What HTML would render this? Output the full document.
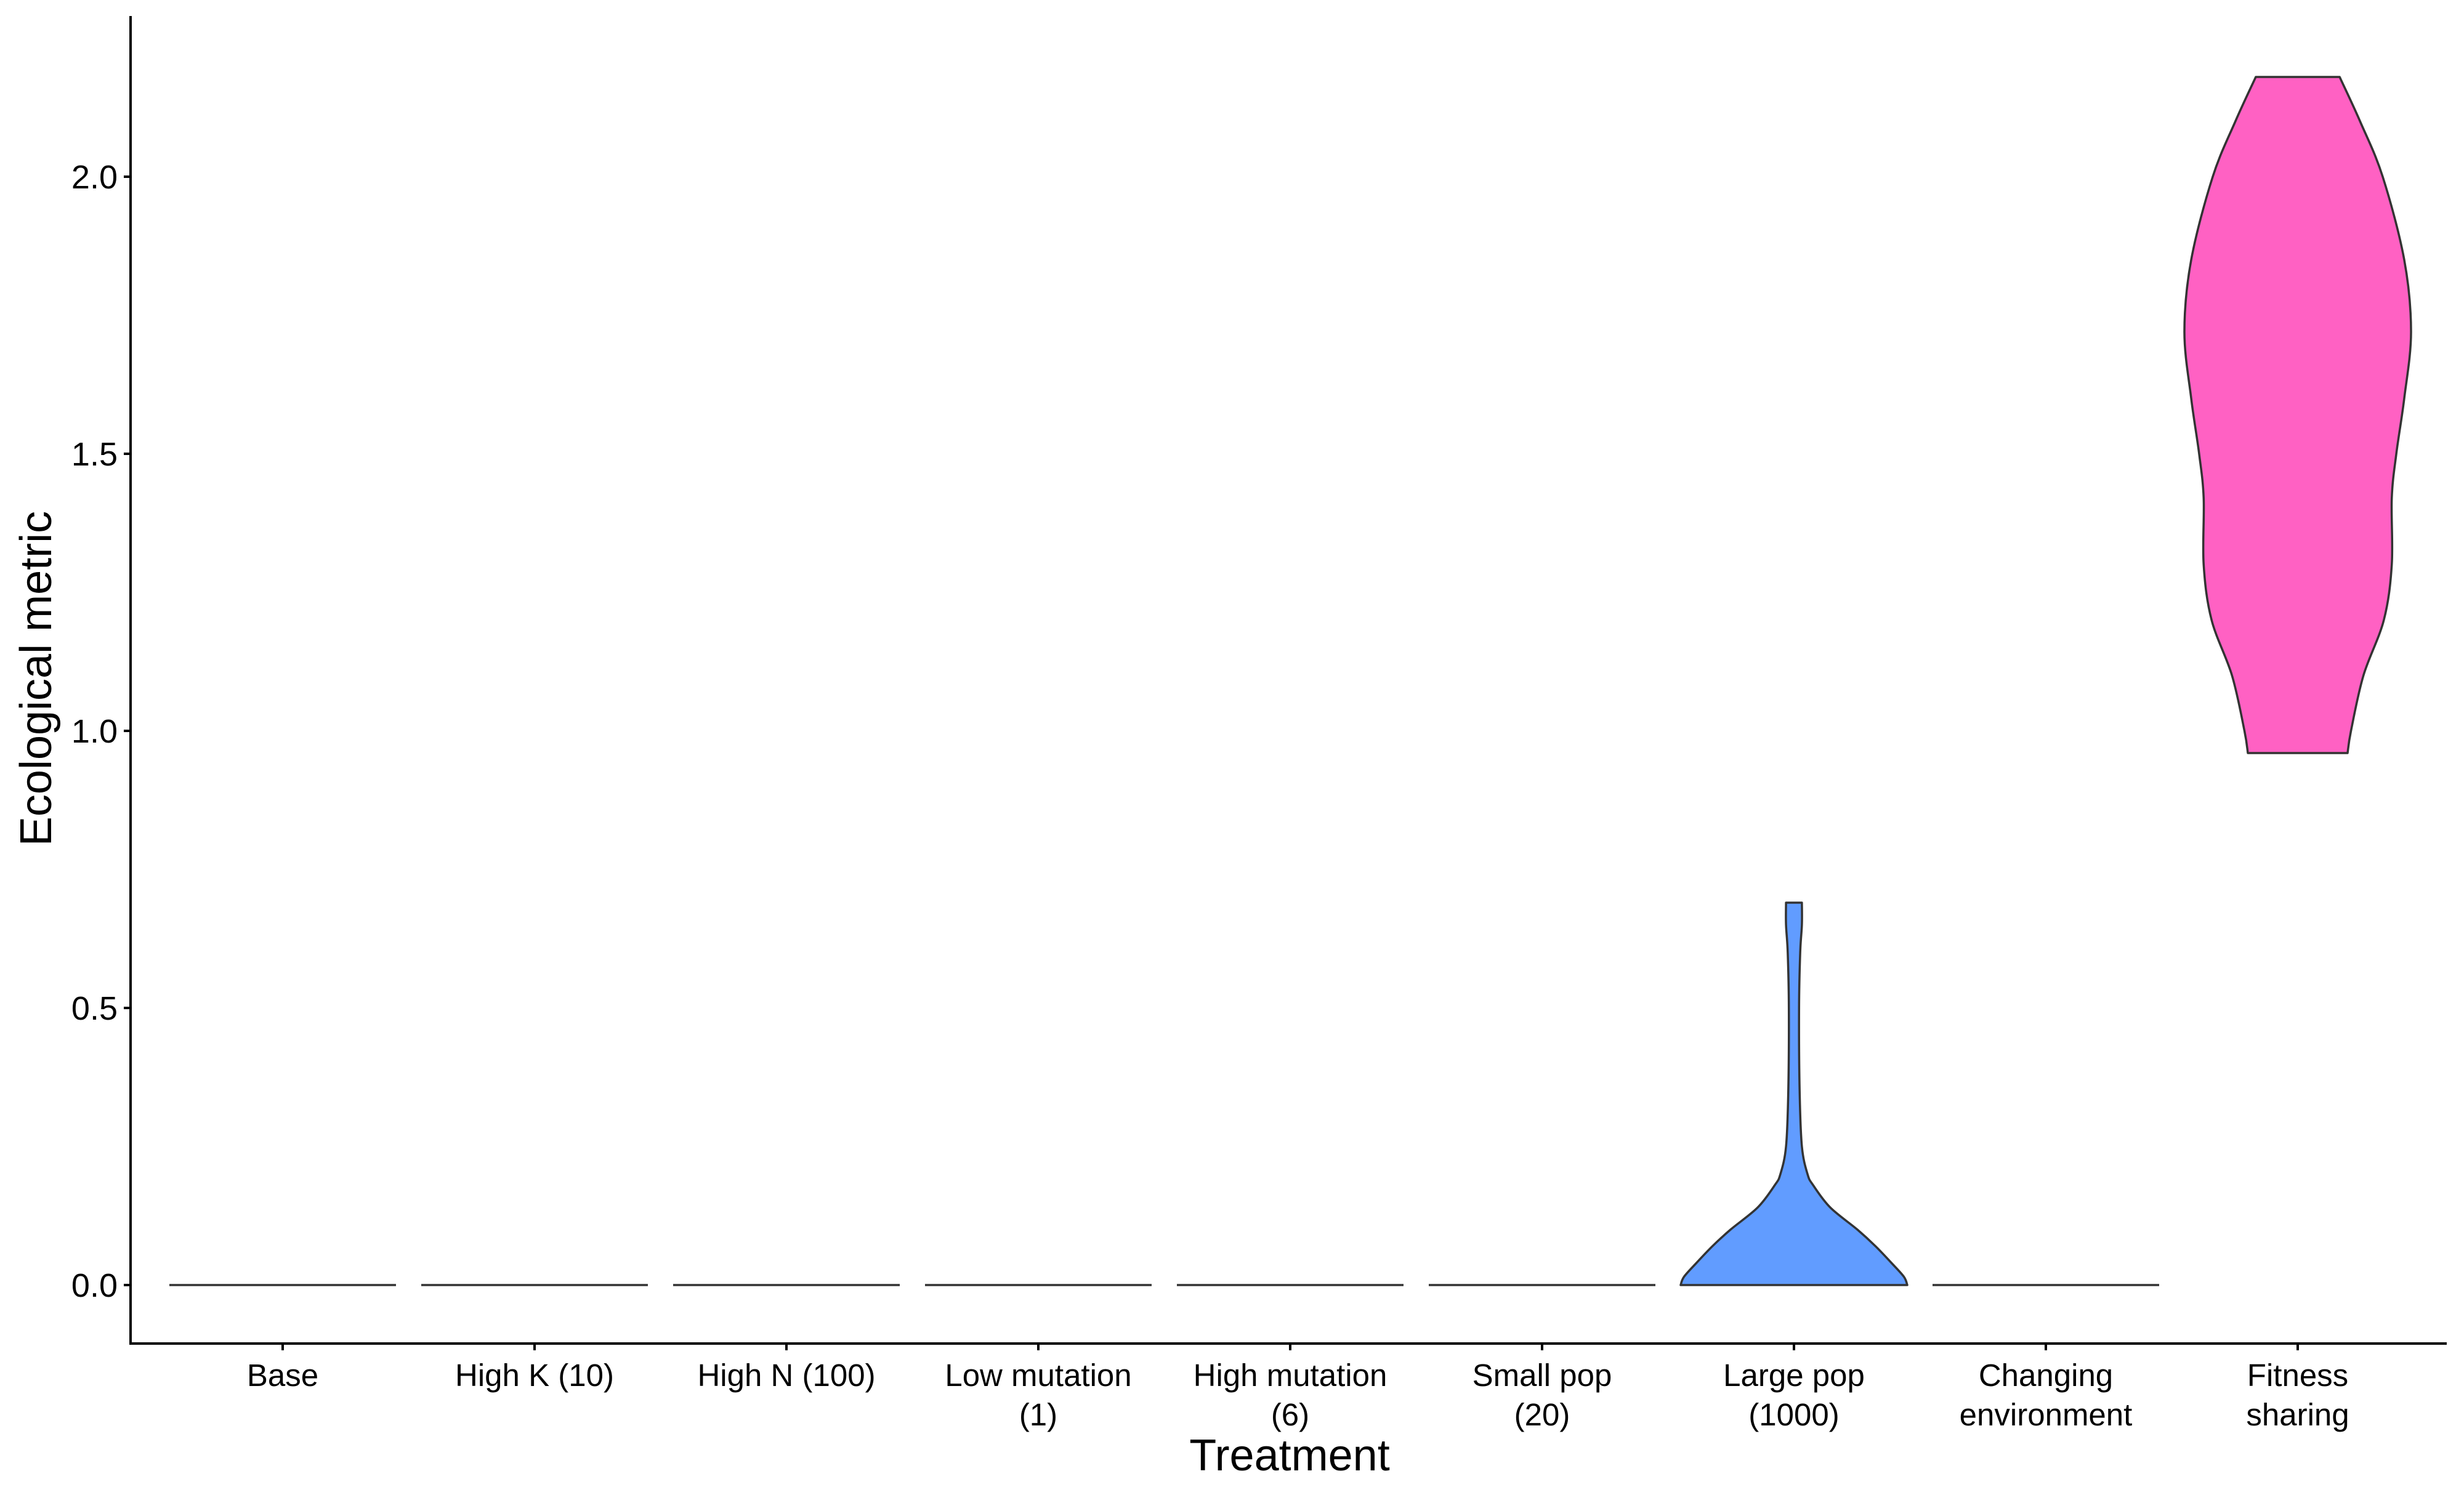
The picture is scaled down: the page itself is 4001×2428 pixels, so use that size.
<!DOCTYPE html>
<html><head><meta charset="utf-8"><style>
html,body{margin:0;padding:0;background:#fff;}
svg text{font-family:"Liberation Sans",sans-serif;fill:#000;}
</style></head><body>
<svg id="chart" width="4001" height="2423" viewBox="0 0 4001 2423" xmlns="http://www.w3.org/2000/svg">
<g id="axes"></g>
<g id="marks"></g>
<text x="64" y="1102" font-size="72" text-anchor="middle" transform="rotate(-90 64 1102)" dominant-baseline="middle">Ecological metric</text>
<text x="2094" y="2388" font-size="72" text-anchor="middle">Treatment</text>
</svg>
<script>
const categories = [["Base"],["High K (10)"],["High N (100)"],["Low mutation","(1)"],["High mutation","(6)"],["Small pop","(20)"],["Large pop","(1000)"],["Changing","environment"],["Fitness","sharing"]];
const yTicks = [0, 0.5, 1.0, 1.5, 2.0];
const yTickLabels = ["0.0","0.5","1.0","1.5","2.0"];
const largePopY = [0, 0.015, 0.04, 0.07, 0.1, 0.14, 0.18, 0.2, 0.25, 0.35, 0.5, 0.6, 0.65, 0.69];
const largePopW = [1.0, 0.97, 0.86, 0.72, 0.56, 0.32, 0.17, 0.12, 0.07, 0.05, 0.045, 0.055, 0.07, 0.07];
const fitnessY = [0.96, 1.0, 1.1, 1.2, 1.3, 1.42, 1.5, 1.6, 1.72, 1.85, 2.0, 2.1, 2.18];
const fitnessW = [0.44, 0.47, 0.58, 0.76, 0.83, 0.83, 0.87, 0.94, 1.0, 0.94, 0.75, 0.55, 0.37];
const flatCategories = [0,1,2,3,4,5,7];

const NS = "http://www.w3.org/2000/svg";
const x = i => 459 + i * 409;
const y = v => 2087 - v * 900;
const halfMax = 184;
const axes = document.getElementById('axes');
const marks = document.getElementById('marks');
function mk(tag, attrs, parent){ const e=document.createElementNS(NS,tag); for(const k in attrs) e.setAttribute(k,attrs[k]); parent.appendChild(e); return e; }

let el = mk('line',{x1:212,y1:26,x2:212,y2:2183,stroke:'#000','stroke-width':4},axes);
 
el = mk('line',{x1:210,y1:2182,x2:3973,y2:2182,stroke:'#000','stroke-width':4},axes);
 

yTicks.forEach((t,i)=>{
  const tk = mk('line',{x1:201,y1:y(t),x2:212,y2:y(t),stroke:'#000','stroke-width':4},axes);
  
  
  const tl = mk('text',{x:191,y:y(t)+19,'font-size':54,'text-anchor':'end'},axes);
  tl.textContent = yTickLabels[i];
  
  
});
categories.forEach((c,i)=>{
  const tk = mk('line',{x1:x(i),y1:2182,x2:x(i),y2:2193,stroke:'#000','stroke-width':4},axes);
  
  
  const tl = mk('text',{x:x(i),y:2251,'font-size':51,'text-anchor':'middle'},axes);
  
  
  c.forEach((line,j)=>{ const ts=mk('tspan',{x:x(i),dy:j?64:0},tl); ts.textContent=line; });
});

flatCategories.forEach(i=>{
  const l = mk('line',{x1:x(i)-halfMax,y1:y(0),x2:x(i)+halfMax,y2:y(0),stroke:'#333','stroke-width':3.5},marks);
  
  
});

function violin(ci, ys, ws, fill, name){
  const cx = x(ci);
  const right = ys.map((v,k)=>[cx+ws[k]*halfMax, y(v)]);
  const left = ys.map((v,k)=>[cx-ws[k]*halfMax, y(v)]).reverse();
  function smooth(p){ let d='M'+p[0][0]+','+p[0][1];
    for(let k=0;k<p.length-1;k++){ const p0=p[Math.max(k-1,0)],p1=p[k],p2=p[k+1],p3=p[Math.min(k+2,p.length-1)];
      d+=' C'+(p1[0]+(p2[0]-p0[0])/6)+','+(p1[1]+(p2[1]-p0[1])/6)+' '+(p2[0]-(p3[0]-p1[0])/6)+','+(p2[1]-(p3[1]-p1[1])/6)+' '+p2[0]+','+p2[1]; }
    return d; }
  const rs = smooth(right), ls = smooth(left);
  const d = rs + ' L' + ls.slice(1) + ' Z';
  const p = mk('path',{d:d,fill:fill,stroke:'#333','stroke-width':3.5,'stroke-linejoin':'round'},marks);
  
  
}
violin(6, largePopY, largePopW, '#619CFF', 'violin-large-pop');
violin(8, fitnessY, fitnessW, '#FF61C3', 'violin-fitness-sharing');
</script>
</body></html>
